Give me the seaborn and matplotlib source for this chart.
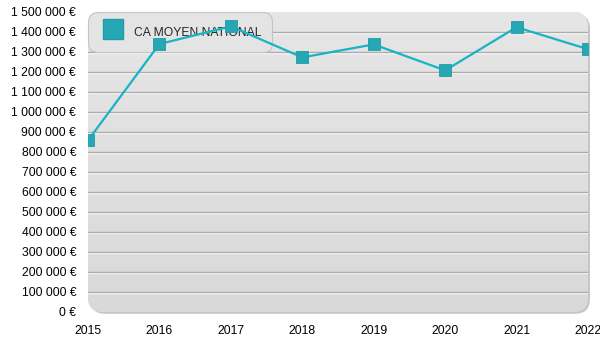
import numpy as np
import pandas as pd
import matplotlib
matplotlib.use("Agg")
import matplotlib.pyplot as plt
import matplotlib.transforms as mtransforms
from matplotlib.patches import FancyBboxPatch
from matplotlib.lines import Line2D
from matplotlib.ticker import FuncFormatter
import seaborn as sns

# Chiffre d'affaires moyen national par année
annees = [2015, 2016, 2017, 2018, 2019, 2020, 2021, 2022]
ca_moyen = [858000, 1340000, 1428000, 1273000, 1338000, 1208000, 1424000, 1314000]
serie = "CA MOYEN NATIONAL"
graduations = list(range(0, 1500001, 100000))

sns.set_style("white")
plt.rcParams["font.family"] = ["Liberation Sans", "DejaVu Sans"]

LINE = "#17b3c6"
MARK = "#26a8b4"

df = pd.DataFrame({"annee": annees, "ca": ca_moyen})

fig = plt.figure(figsize=(6, 3.5), dpi=100)
fig.patch.set_facecolor("white")
ax = fig.add_axes([88 / 600, 38 / 350, 500 / 600, 300 / 350])
ax.patch.set_visible(False)
for s in ax.spines.values():
    s.set_visible(False)

ax.set_xlim(annees[0], annees[-1])
ax.set_ylim(graduations[0], graduations[-1])

# Panneau arrondi avec ombre portée
shadow = FancyBboxPatch((0.004, -0.006), 1.0, 1.0,
                        boxstyle="round,pad=0,rounding_size=0.03",
                        transform=ax.transAxes, facecolor="#c6c6c6",
                        edgecolor="none", zorder=0, clip_on=False,
                        mutation_aspect=500 / 300)
ax.add_patch(shadow)
panel = FancyBboxPatch((0, 0), 1.0, 1.0,
                       boxstyle="round,pad=0,rounding_size=0.03",
                       transform=ax.transAxes, facecolor="#e0e0e0",
                       edgecolor="none", zorder=0.5, clip_on=False,
                       mutation_aspect=500 / 300)
ax.add_patch(panel)
grad = np.linspace(0, 1, 256).reshape(-1, 1)
img = ax.imshow(grad, cmap=matplotlib.colors.LinearSegmentedColormap.from_list(
    "fond", ["#e6e6e6", "#d9d9d9"]), aspect="auto", origin="upper",
    extent=[0, 1, 0, 1], transform=ax.transAxes, zorder=0.6)
img.set_clip_path(panel)

# Lignes de grille en relief
below = mtransforms.offset_copy(ax.transData, fig=fig, x=0, y=-1, units="dots")
for v in graduations[1:-1]:
    ax.axhline(v, color="#ababab", lw=1.0, zorder=1)
    ax.plot([annees[0], annees[-1]], [v, v], color="white", lw=1.0,
            transform=below, zorder=0.9)

sns.lineplot(data=df, x="annee", y="ca", ax=ax, color=LINE, lw=1.6,
             marker="s", markersize=8.5, markerfacecolor=MARK,
             markeredgecolor="#1f9ca8", markeredgewidth=0.6, zorder=6)

ax.set_xlabel("")
ax.set_ylabel("")
ax.set_xticks(annees)
ax.set_xticklabels([str(a) for a in annees])
ax.set_yticks(graduations)
ax.yaxis.set_major_formatter(FuncFormatter(
    lambda v, p: f"{int(v):,}".replace(",", " ") + " €"))
ax.tick_params(axis="both", length=0, labelsize=8.7, colors="black")
ax.tick_params(axis="y", pad=8.5)
ax.tick_params(axis="x", pad=9)

handle = Line2D([], [], color="none", marker="s", markersize=15,
                markerfacecolor=MARK, markeredgecolor="#1f9ca8")
leg = ax.legend([handle], [serie], loc="upper left",
                bbox_to_anchor=(0, 1), frameon=True, fancybox=True,
                facecolor="#e4e4e4", edgecolor="#c4c4c4", framealpha=1,
                fontsize=8.7, borderpad=0.9, handletextpad=0.5,
                handlelength=2.4, handleheight=2.0, borderaxespad=0)
frame = leg.get_frame()
frame.set_linewidth(0.8)
frame.set_boxstyle("round,pad=0,rounding_size=0.8")
leg.set_zorder(3)

fig.savefig("out.png", dpi=100)
